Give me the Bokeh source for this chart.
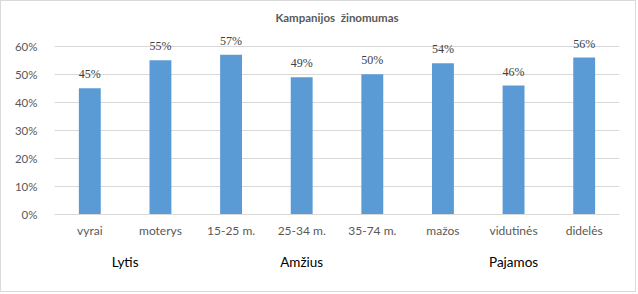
from bokeh.plotting import figure
from bokeh.models import (ColumnDataSource, FixedTicker, LinearAxis, NumeralTickFormatter,
                          Range1d, Title, LabelSet)
from bokeh.embed import file_html
from bokeh.resources import INLINE

categories = ["vyrai", "moterys", "15-25 m.", "25-34 m.", "35-74 m.", "mažos", "vidutinės", "didelės"]
values = [0.45, 0.55, 0.57, 0.49, 0.50, 0.54, 0.46, 0.56]
groups = ["Lytis", "Lytis", "Amžius", "Amžius", "Amžius", "Pajamos", "Pajamos", "Pajamos"]
y_ticks = [0, 0.1, 0.2, 0.3, 0.4, 0.5, 0.6]
title_text = "Kampanijos\u00a0 žinomumas"

FONT = "Lato"
xs = list(range(1, len(categories) + 1))
labels = [f"{round(v * 100)}%" for v in values]
src = ColumnDataSource(dict(x=xs, top=values, label=labels))

p = figure(width=636, height=292, output_backend="svg", toolbar_location=None,
           x_range=Range1d(0.5, len(categories) + 0.5), y_range=Range1d(0, 0.66),
           min_border_left=53, min_border_right=18, min_border_top=28, min_border_bottom=79,
           styles={"border": "1px solid #d9d9d9"})
p.outline_line_color = None
p.background_fill_color = "white"
p.border_fill_color = "white"

t = Title(text=title_text, align="center", text_font=FONT, text_font_size="11.5px",
          text_font_style="bold", text_color="#595959", offset=0, standoff=11)
p.add_layout(t, "above")

p.vbar(x="x", top="top", width=0.31, source=src, color="#5B9BD5", line_color=None)
ls = LabelSet(x="x", y="top", text="label", source=src, text_align="center",
              text_baseline="bottom", y_offset=7, text_font=FONT, text_font_size="12px",
              text_color="#404040")
p.add_layout(ls)

# y axis
p.yaxis.ticker = FixedTicker(ticks=y_ticks)
p.yaxis.formatter = NumeralTickFormatter(format="0%")
p.yaxis.axis_line_color = None
p.yaxis.major_tick_line_color = None
p.yaxis.minor_tick_line_color = None
p.yaxis.major_label_standoff = 11
p.yaxis.major_label_text_font = FONT
p.yaxis.major_label_text_font_size = "11.5px"
p.yaxis.major_label_text_color = "#595959"
p.ygrid.grid_line_color = "#d9d9d9"
p.ygrid.ticker = FixedTicker(ticks=y_ticks)
p.xgrid.grid_line_color = None

# x axis (categories)
p.xaxis.ticker = FixedTicker(ticks=xs)
p.xaxis.major_label_overrides = {x: c for x, c in zip(xs, categories)}
p.xaxis.axis_line_color = "#d9d9d9"
p.xaxis.major_tick_line_color = None
p.xaxis.minor_tick_line_color = None
p.xaxis.major_label_standoff = 2
p.xaxis.major_label_text_font = FONT
p.xaxis.major_label_text_font_size = "12px"
p.xaxis.major_label_text_color = "#595959"

# group axis
group_names = []
for g in groups:
    if g not in group_names:
        group_names.append(g)
group_pos = [sum(x for x, gg in zip(xs, groups) if gg == g) / groups.count(g) for g in group_names]
gax = LinearAxis(ticker=FixedTicker(ticks=group_pos),
                 major_label_overrides={pos: g for pos, g in zip(group_pos, group_names)})
gax.axis_line_color = None
gax.major_tick_line_color = None
gax.minor_tick_line_color = None
gax.major_label_standoff = 7
gax.major_label_text_font = FONT
gax.major_label_text_font_size = "13.5px"
gax.major_label_text_color = "#000000"
p.add_layout(gax, "below")

open("out.html", "w").write(file_html(p, INLINE))
